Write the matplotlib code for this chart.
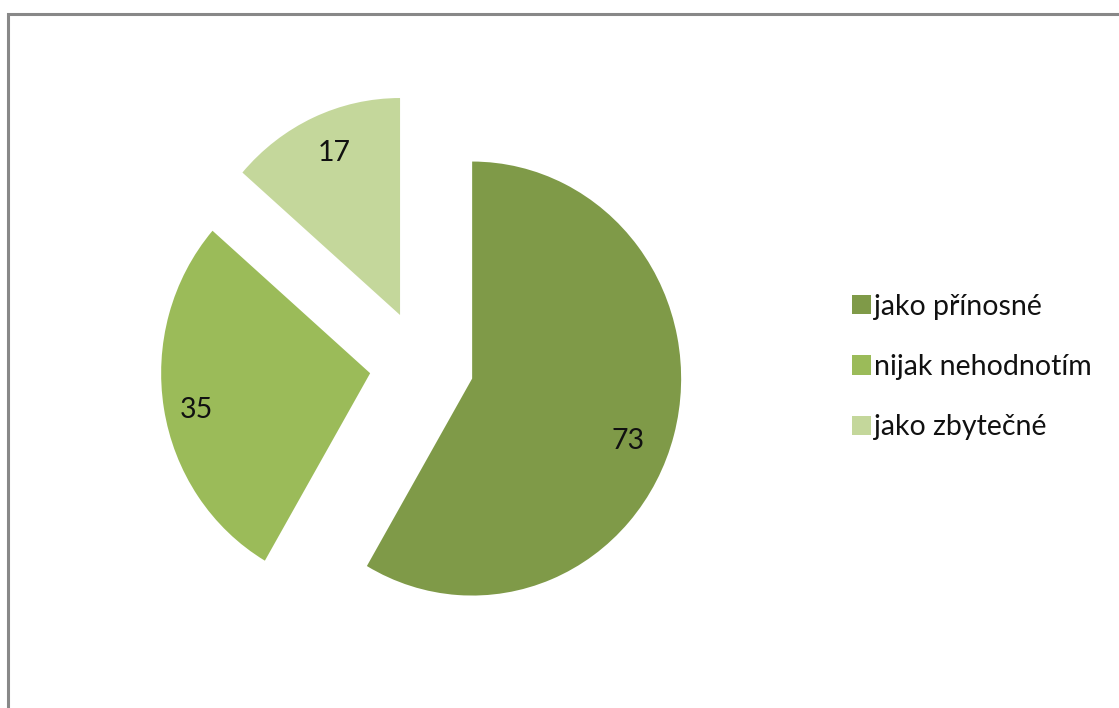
import numpy as np
import matplotlib.pyplot as plt
from matplotlib.patches import Rectangle

plt.rcParams['font.family'] = ['Lato', 'DejaVu Sans']

labels = ['jako přínosné', 'nijak nehodnotím', 'jako zbytečné']
values = [73, 35, 17]
colors = ['#7f9a48', '#9bbb59', '#c4d79b']
total = sum(values)

W, H = 1119, 708
fig = plt.figure(figsize=(W / 100, H / 100), dpi=100)

# pie centre at (422, 364) px, radius 209 px wide / 217 px tall
cx, cy, rx, ry = 421.7, 364.4, 209, 217
ax = fig.add_axes([(cx - 1.5 * rx) / W, 1 - (cy + 1.5 * ry) / H,
                   3 * rx / W, 3 * ry / H])

wedges, texts, autotexts = ax.pie(
    values, colors=colors, explode=[0.25] * 3, startangle=90,
    counterclock=False, radius=1,
    autopct=lambda p: f"{round(p * total / 100):d}", pctdistance=0.82,
    wedgeprops=dict(linewidth=0),
    textprops=dict(fontsize=20.5, color='#111111'))
ax.set_aspect('auto')
ax.set_xlim(-1.5, 1.5)
ax.set_ylim(-1.5, 1.5)

# nudge value labels (angle offset in degrees, distance from slice tip)
label_pos = [(-6, 0.80), (2, 0.85), (-1.5, 0.81)]
for w, t, (dang, dist) in zip(wedges, autotexts, label_pos):
    ang = np.deg2rad((w.theta1 + w.theta2) / 2 + dang)
    x0, y0 = w.center
    t.set_position((x0 + dist * np.cos(ang), y0 + dist * np.sin(ang)))

leg = fig.legend(wedges, labels, loc='center left',
                 bbox_to_anchor=(852 / W, 1 - 367 / H),
                 frameon=False, fontsize=20.5, handlelength=0.66,
                 handleheight=0.66, handletextpad=0.12, labelspacing=1.2,
                 borderpad=0, borderaxespad=0)
for t in leg.get_texts():
    t.set_color('#111111')

# outer chart border, cut off at right and bottom
fig.add_artist(Rectangle((7.5 / W, -0.1), 1.2, 1.1 - 14.5 / H,
                         transform=fig.transFigure, fill=False,
                         edgecolor='#888888', linewidth=2.2))

fig.savefig('out.png', dpi=100)
